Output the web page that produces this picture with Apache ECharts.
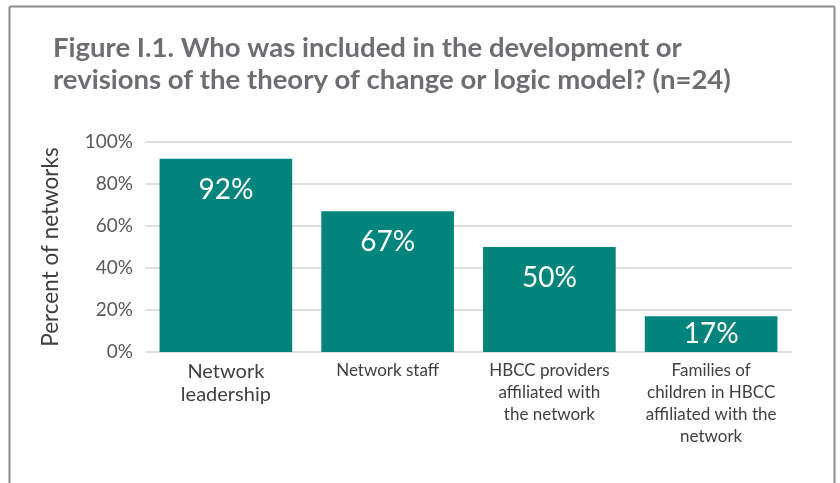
<!DOCTYPE html>
<html>
<head>
<meta charset="utf-8">
<script src="https://cdn.jsdelivr.net/npm/echarts@6/dist/echarts.min.js"></script>
<style>
  html, body { margin: 0; padding: 0; background: #fff; }
  #chart { width: 840px; height: 483px; }
</style>
</head>
<body>
<div id="chart"></div>
<script>
// Who took part in building or revising the theory of change / logic model
const categories = [
  'Network\nleadership',
  'Network staff',
  'HBCC providers\naffiliated with\nthe network',
  'Families of\nchildren in HBCC\naffiliated with the\nnetwork'
];
const percents = [92, 67, 50, 17];
const yTicks = [0, 20, 40, 60, 80, 100];

const chart = echarts.init(document.getElementById('chart'));

// short bars get their value label centred inside instead of pinned to the top
const barData = percents.map(function (v) {
  return v < 25
    ? { value: v, label: { position: 'inside', distance: 0 } }
    : v;
});

chart.setOption({
  animation: false,
  backgroundColor: '#ffffff',
  title: {
    text: 'Figure I.1. Who was included in the development or\nrevisions of the theory of change or logic model? (n=24)',
    left: 48,
    top: 27,
    textStyle: {
      fontFamily: 'Lato',
      fontSize: 27.5,
      fontWeight: 'bold',
      color: '#6d6e71',
      lineHeight: 32
    }
  },
  graphic: [
    { type: 'line', shape: { x1: 9.5, y1: 6.5, x2: 834.5, y2: 6.5 }, style: { stroke: '#8c8c8c', lineWidth: 2 } },
    { type: 'line', shape: { x1: 9.5, y1: 6.5, x2: 9.5, y2: 483 }, style: { stroke: '#8c8c8c', lineWidth: 2 } },
    { type: 'line', shape: { x1: 834.5, y1: 6.5, x2: 834.5, y2: 483 }, style: { stroke: '#8c8c8c', lineWidth: 2 } }
  ],
  grid: { left: 145, right: 48, top: 142, bottom: 131, containLabel: false },
  xAxis: {
    type: 'category',
    data: categories,
    axisLine: { show: false },
    axisTick: { show: false },
    axisLabel: {
      interval: 0,
      margin: 8,
      fontFamily: 'Lato',
      fontSize: 17,
      lineHeight: 22,
      color: '#404040',
      formatter: function (v, i) {
        return i === 0 ? '{big|' + v + '}' : v;
      },
      rich: {
        big: { fontFamily: 'Lato', fontSize: 20, lineHeight: 23, color: '#404040' }
      }
    }
  },
  yAxis: {
    type: 'value',
    min: yTicks[0],
    max: yTicks[yTicks.length - 1],
    interval: yTicks[1] - yTicks[0],
    name: 'Percent of networks',
    nameLocation: 'middle',
    nameGap: 83,
    nameTextStyle: { fontFamily: 'Lato', fontSize: 22.5, color: '#404040' },
    axisLine: { show: false },
    axisTick: { show: false },
    axisLabel: {
      margin: 12,
      fontFamily: 'Lato',
      fontSize: 19,
      color: '#595959',
      formatter: '{value}%'
    },
    splitLine: { lineStyle: { color: '#e0e0e0', width: 2 } }
  },
  series: [{
    type: 'bar',
    data: barData,
    barCategoryGap: '18%',
    itemStyle: { color: '#00847c' },
    label: {
      show: true,
      position: 'insideTop',
      distance: 17,
      formatter: '{c}%',
      fontFamily: 'Lato',
      fontSize: 28,
      color: '#ffffff'
    }
  }]
});
</script>
</body>
</html>
